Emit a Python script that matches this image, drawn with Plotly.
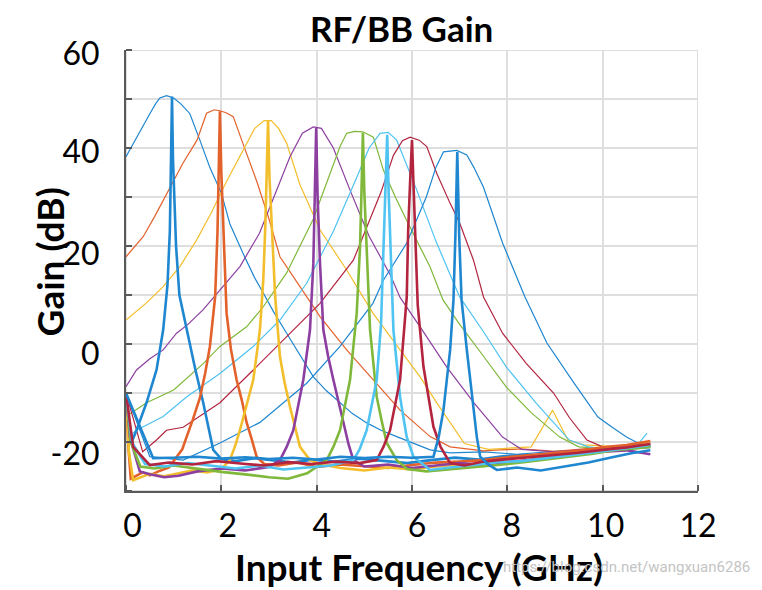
import plotly.graph_objects as go

# ---------------- data ----------------
# Broad (RF) response curves, thin lines
THIN_1_X = [0, 0.19, 0.35, 0.5, 0.62, 0.71, 0.85, 1.0, 1.15, 1.34, 1.55, 1.76, 2.0, 2.18, 2.45, 2.7, 2.88, 3.1, 3.37, 3.65, 3.93, 4.2, 4.49, 4.75, 5.05, 5.35, 5.68, 6.0, 6.38, 6.8, 7.5, 8.2, 9.0, 9.8, 10.5, 11.0]
THIN_1_Y = [38.2, 41.6, 44.5, 47, 49, 50.2, 50.7, 50.2, 49, 47, 41.6, 36, 30.8, 24.5, 18.6, 13.5, 10.4, 6.5, 2.2, -2.3, -6.7, -9.5, -12, -14.2, -16.1, -17.6, -18.9, -20.2, -21.6, -22.2, -22.0, -22.5, -21.9, -21.5, -21.2, -20.6]

THIN_2_X = [0, 0.36, 0.6, 0.86, 1.2, 1.49, 1.69, 1.85, 1.97, 2.1, 2.25, 2.45, 2.75, 3.0, 3.23, 3.65, 4.07, 4.63, 5.18, 5.75, 6.38, 6.8, 7.5, 8.3, 9.0, 9.8, 10.5, 11.0]
THIN_2_Y = [17.8, 21.9, 26, 30.8, 37, 41.6, 47.1, 47.8, 47.6, 47.2, 46.4, 41, 33, 25.5, 17.8, 11.7, 5.6, -1.2, -7.3, -13.5, -18.9, -21.0, -21.8, -21.4, -21.9, -21.2, -20.7, -20.2]

THIN_3_X = [0, 0.43, 0.78, 1.13, 1.48, 1.8, 2.1, 2.45, 2.7, 2.9, 3.05, 3.2, 3.37, 3.65, 4.07, 4.63, 5.18, 5.75, 6.17, 6.52, 6.8, 7.1, 7.6, 8.1, 8.5, 8.95, 9.27, 9.6, 10.2, 11.0]
THIN_3_Y = [4.9, 8.4, 11.7, 15.8, 21.2, 27, 33, 39.6, 44, 45.6, 45.6, 44, 41, 32.5, 23.3, 15.1, 6.3, -1.2, -6.7, -12, -16, -20.3, -21.5, -21.2, -21.0, -13.5, -19.6, -20.6, -20.9, -20.3]

THIN_4_X = [0, 0.22, 0.5, 0.78, 1.06, 1.3, 1.62, 1.97, 2.39, 2.8, 3.1, 3.44, 3.7, 3.93, 4.1, 4.35, 4.7, 5.1, 5.55, 5.75, 6.17, 6.73, 7.3, 7.9, 8.3, 9.0, 10.0, 11.0]
THIN_4_Y = [-8.7, -5.3, -3, -1.2, 2.2, 4, 7, 11, 15.8, 22.6, 30, 38.2, 43, 44.3, 44, 40, 31.4, 22, 14, 9.5, 3.5, -4.7, -12, -19, -21.5, -22.0, -21.3, -20.8]

THIN_5_X = [0, 0.43, 1.0, 1.62, 1.97, 2.53, 2.88, 3.37, 3.93, 4.28, 4.49, 4.63, 4.8, 4.97, 5.19, 5.4, 5.65, 5.9, 6.1, 6.38, 6.65, 7.0, 7.5, 7.98, 8.5, 9.1, 9.5, 10.2, 11.0]
THIN_5_Y = [-14.8, -12, -9.4, -4, -0.5, 3.5, 7.6, 14.5, 25.5, 35, 40.3, 43, 43.4, 43.3, 42.2, 35.5, 30, 25, 21, 15.7, 9, 4, -2.5, -8.8, -14, -19, -21, -21.4, -20.8]

THIN_6_X = [0, 0.1, 0.22, 0.78, 1.27, 1.97, 2.67, 3.23, 3.79, 4.35, 4.84, 5.1, 5.33, 5.5, 5.68, 6.1, 6.5, 7.0, 7.5, 7.98, 8.6, 9.3, 9.7, 10.3, 10.7, 10.93]
THIN_6_Y = [-10, -18.5, -17.6, -14.8, -10.8, -6, -0.5, 4.9, 12.4, 23, 34, 40, 43, 43.2, 41.6, 31.4, 21, 9.6, 2.5, -4.7, -12, -19.6, -21, -21.6, -21.0, -18.2]

THIN_7_X = [0, 0.35, 0.64, 0.85, 1.2, 1.97, 2.67, 3.37, 4.07, 4.77, 5.05, 5.35, 5.61, 5.8, 5.96, 6.15, 6.31, 6.52, 6.8, 7.0, 7.29, 7.5, 7.9, 8.4, 8.97, 9.3, 9.67, 10.0, 10.5, 11.0]
THIN_7_Y = [-10, -22, -19.6, -17.6, -17, -12, -5.3, 1.5, 8.3, 17.1, 24, 31, 38.5, 41.5, 42.2, 41.6, 40.3, 34.8, 28.7, 24.7, 17.1, 9.6, 2.2, -4, -10, -15, -19.6, -21, -21.3, -20.5]

THIN_8_X = [0, 0.5, 1.2, 1.97, 2.81, 3.79, 4.49, 5.18, 5.4, 5.89, 6.3, 6.5, 6.66, 6.94, 7.15, 7.3, 7.5, 7.9, 8.37, 8.83, 9.4, 9.9, 10.2, 10.5, 10.8, 11.0]
THIN_8_Y = [-10, -23, -23.7, -20.2, -16, -8, -0.5, 8.3, 13, 20.6, 30, 36, 39.2, 39.5, 38.6, 36, 32, 20.6, 9.6, 0.2, -8, -14.9, -17, -19, -20.5, -20.8]

# Narrow (BB) response curves, thick lines
THICK_1_X = [0, 0.06, 0.12, 0.22, 0.43, 0.64, 0.78, 0.87, 0.92, 0.945, 0.965, 0.985, 1.01, 1.05, 1.12, 1.27, 1.45, 1.62, 1.75, 1.83, 2.0, 2.3, 2.7, 3.1, 3.5, 3.9, 4.4, 4.9, 5.4, 5.9, 6.4, 6.9, 7.4, 7.9, 8.4, 8.9, 9.4, 9.9, 10.4, 11.0]
THICK_1_Y = [-10, -18.5, -20, -17.6, -12, -5.3, 2.9, 12, 23, 36, 50.5, 38, 29, 20, 10, 2.9, -5, -12, -18, -21.6, -23.5, -23.9, -23.3, -23.8, -24.2, -23.6, -24.0, -23.4, -23.9, -24.3, -23.7, -23.2, -23.6, -22.9, -22.6, -22.9, -22.2, -21.8, -21.5, -21.0]

THICK_2_X = [0, 0.05, 0.1, 0.2, 0.35, 0.5, 0.7, 0.9, 1.06, 1.18, 1.27, 1.4, 1.55, 1.66, 1.76, 1.87, 1.92, 1.95, 1.97, 2.0, 2.04, 2.11, 2.2, 2.32, 2.43, 2.53, 2.64, 2.74, 2.9, 3.2, 3.6, 4.0, 4.5, 5.0, 5.5, 6.0, 6.5, 7.0, 7.5, 8.0, 8.5, 9.0, 9.5, 10.0, 10.5, 11.0]
THICK_2_Y = [-10, -21, -27.5, -27, -26.2, -26.8, -25.9, -25.2, -23, -21.5, -19, -15.5, -11, -6, -0.5, 9.6, 23, 35, 47.5, 35, 23, 6.3, -1, -7.3, -11.5, -16, -19.5, -23, -24.5, -24.8, -24.2, -25.1, -24.6, -24.9, -25.3, -24.7, -24.2, -24.0, -23.7, -23.1, -22.7, -22.3, -21.8, -21.1, -20.6, -19.8]

THICK_3_X = [0, 0.06, 0.15, 0.3, 0.5, 0.8, 1.1, 1.4, 1.7, 2.0, 2.18, 2.3, 2.39, 2.53, 2.67, 2.81, 2.88, 2.92, 2.95, 2.98, 3.01, 3.06, 3.13, 3.23, 3.33, 3.44, 3.55, 3.65, 3.86, 4.1, 4.5, 5.0, 5.5, 6.0, 6.5, 7.0, 7.5, 8.0, 8.5, 9.0, 9.5, 10.0, 10.5, 11.0]
THICK_3_Y = [-10, -22, -27.8, -27.2, -26.5, -27.0, -26.4, -25.8, -26.2, -25.5, -23.7, -20.5, -17.6, -12.5, -7.3, 2.9, 13.1, 23.3, 34, 45.5, 34, 23.3, 9.6, -2.6, -8, -12.8, -17, -21, -23.7, -24.6, -25.3, -25.8, -25.2, -25.6, -25.0, -24.6, -24.9, -24.3, -23.6, -23.0, -22.4, -21.9, -21.2, -20.6]

THICK_4_X = [0, 0.08, 0.29, 0.5, 0.8, 1.1, 1.5, 2.0, 2.5, 3.0, 3.23, 3.37, 3.51, 3.62, 3.72, 3.86, 3.93, 3.96, 3.99, 4.02, 4.07, 4.14, 4.24, 4.35, 4.46, 4.56, 4.67, 4.77, 5.0, 5.5, 6.0, 6.5, 7.0, 7.5, 8.0, 8.5, 9.0, 9.5, 10.0, 10.5, 11.0]
THICK_4_Y = [-10, -19, -26, -26.6, -27.2, -26.9, -26.0, -25.4, -25.8, -25.1, -23.7, -21, -17.6, -12.5, -7.3, 2.9, 16.5, 30, 44.1, 30, 16.5, 2.9, -2.5, -7.3, -12, -16, -20.5, -23.7, -25.0, -24.6, -25.3, -24.8, -24.3, -24.7, -24.2, -23.6, -23.1, -22.6, -22.0, -21.7, -22.5]

THICK_5_X = [0, 0.1, 0.3, 0.6, 1.0, 1.5, 2.0, 2.5, 3.0, 3.4, 3.8, 4.21, 4.35, 4.49, 4.6, 4.7, 4.84, 4.91, 4.94, 4.97, 5.0, 5.05, 5.12, 5.19, 5.26, 5.36, 5.47, 5.68, 5.9, 6.3, 6.8, 7.3, 7.8, 8.3, 8.8, 9.3, 9.8, 10.3, 11.0]
THICK_5_Y = [-10, -20, -25, -25.4, -24.8, -25.5, -26.1, -26.6, -27.2, -27.5, -26.4, -23.7, -21, -17.6, -12.5, -7.3, 6.3, 19.9, 31, 43.1, 31, 19.9, 2.9, -4, -10.8, -15.5, -20.2, -23.7, -25.5, -26.0, -25.6, -25.1, -24.7, -24.2, -23.6, -23.0, -22.4, -21.6, -21.0]

THICK_6_X = [0, 0.12, 0.4, 0.8, 1.3, 1.8, 2.3, 2.8, 3.3, 3.8, 4.3, 4.77, 4.9, 5.05, 5.15, 5.26, 5.35, 5.41, 5.45, 5.48, 5.51, 5.54, 5.61, 5.68, 5.75, 5.82, 5.89, 6.03, 6.38, 6.8, 7.3, 7.8, 8.3, 8.8, 9.3, 9.8, 10.3, 11.0]
THICK_6_Y = [-10, -20, -24.5, -25.0, -24.3, -24.9, -25.4, -24.8, -25.6, -25.2, -24.8, -23.7, -21.5, -17.6, -12.5, -7.3, 4, 20, 31, 42.7, 31, 23.3, 2.9, -4, -10.8, -15, -19, -23, -25.7, -25.2, -24.6, -24.1, -23.9, -23.3, -22.8, -22.1, -21.5, -20.6]

THICK_7_X = [0, 0.15, 0.5, 0.9, 1.4, 1.9, 2.4, 2.9, 3.4, 3.9, 4.4, 4.9, 5.26, 5.4, 5.54, 5.65, 5.75, 5.89, 5.92, 5.96, 6.0, 6.03, 6.06, 6.12, 6.24, 6.35, 6.45, 6.6, 6.8, 7.1, 7.5, 8.0, 8.5, 9.0, 9.5, 10.0, 10.5, 11.0]
THICK_7_Y = [-10, -21, -24.7, -24.2, -24.6, -23.9, -24.4, -24.8, -24.1, -24.5, -24.0, -24.3, -23.7, -21, -17.6, -12.5, -7.3, 9.6, 23.3, 33, 41.6, 33, 23.3, 8, -4.6, -11, -16.9, -21, -24.3, -24.8, -24.0, -23.5, -23.1, -22.7, -22.2, -21.6, -21.1, -20.4]

THICK_8_X = [0, 0.3, 0.57, 1.0, 1.5, 2.0, 2.5, 3.0, 3.5, 4.0, 4.5, 5.0, 5.5, 6.0, 6.45, 6.56, 6.66, 6.8, 6.87, 6.91, 6.95, 6.99, 7.04, 7.15, 7.29, 7.36, 7.43, 7.6, 7.78, 8.2, 8.7, 9.2, 9.7, 10.2, 10.6, 11.0]
THICK_8_Y = [-10, -17, -23.3, -23.2, -23.0, -23.4, -23.1, -23.5, -23.2, -23.6, -23.0, -23.3, -23.0, -23.2, -23, -19, -13.5, -1.2, 9, 22, 39.2, 22, 9, -1.2, -13.5, -19, -23, -24.6, -25.7, -25.2, -25.8, -25.0, -24.2, -23.1, -22.3, -21.7]

COLORS = ["#1f86d0", "#e3612b", "#f3be2c", "#8c3fa0", "#7fb83a", "#4fc3f2", "#b3243f", "#1f86d0"]

X_TICK_POS = [0.136, 2.136, 4.105, 6.105, 8.094, 10.063, 12.0]
X_TICK_TEXT = ["0", "2", "4", "6", "8", "10", "12"]
Y_TICK_POS = [59.3, 39.25, 18.5, -2.0, -22.4]
Y_TICK_TEXT = ["60", "40", "20", "0", "-20"]

TITLE = "RF/BB Gain"
X_TITLE = "Input Frequency (GHz)"
Y_TITLE = "Gain (dB)"
WATERMARK = "https://blog.csdn.net/wangxuan6286"

# ---------------- figure ----------------
thin = [(THIN_1_X, THIN_1_Y), (THIN_2_X, THIN_2_Y), (THIN_3_X, THIN_3_Y), (THIN_4_X, THIN_4_Y),
        (THIN_5_X, THIN_5_Y), (THIN_6_X, THIN_6_Y), (THIN_7_X, THIN_7_Y), (THIN_8_X, THIN_8_Y)]
thick = [(THICK_1_X, THICK_1_Y), (THICK_2_X, THICK_2_Y), (THICK_3_X, THICK_3_Y), (THICK_4_X, THICK_4_Y),
         (THICK_5_X, THICK_5_Y), (THICK_6_X, THICK_6_Y), (THICK_7_X, THICK_7_Y), (THICK_8_X, THICK_8_Y)]

fig = go.Figure()
for (xs, ys), c in zip(thin, COLORS):
    fig.add_trace(go.Scatter(x=xs, y=ys, mode="lines", line=dict(color=c, width=1.2),
                             showlegend=False, hoverinfo="skip"))
for (xs, ys), c in zip(thick, COLORS):
    fig.add_trace(go.Scatter(x=xs, y=ys, mode="lines", line=dict(color=c, width=2.6),
                             showlegend=False, hoverinfo="skip"))

FONT = "Lato, Carlito, Calibri, 'Open Sans', sans-serif"
GRID = "#dedede"
AXIS = "#5a5a5a"

fig.update_xaxes(range=[0, 12], tickmode="array", tickvals=X_TICK_POS, ticktext=X_TICK_TEXT,
                 ticks="", showgrid=False, zeroline=False, showline=True, linecolor=AXIS, linewidth=2,
                 tickfont=dict(family=FONT, size=32, color="black"), ticklabelstandoff=6,
                 automargin=False,
                 minor=dict(tickmode="linear", tick0=0, dtick=2, ticks="inside", ticklen=6,
                            tickcolor=AXIS, tickwidth=1.5, showgrid=True, gridcolor=GRID, gridwidth=1.6))
fig.update_yaxes(range=[-30, 60], tickmode="array", tickvals=Y_TICK_POS, ticktext=Y_TICK_TEXT,
                 ticks="", showgrid=False, zeroline=False, showline=True, linecolor=AXIS, linewidth=2,
                 tickfont=dict(family=FONT, size=32, color="black"), ticklabelstandoff=18,
                 automargin=False,
                 minor=dict(tickmode="linear", tick0=0, dtick=10, ticks="inside", ticklen=6,
                            tickcolor=AXIS, tickwidth=1.5, showgrid=True, gridcolor=GRID, gridwidth=1.6))

fig.add_shape(type="rect", xref="x", yref="y", x0=0, x1=12, y0=-30, y1=60,
              line=dict(color=GRID, width=2), layer="below")

fig.add_annotation(text="<b>%s</b>" % TITLE, xref="paper", yref="paper", x=0.4825, y=1.05,
                   xanchor="center", yanchor="middle", showarrow=False,
                   font=dict(family=FONT, size=35, color="black"))
fig.add_annotation(text="<b>%s</b>" % X_TITLE, xref="paper", yref="paper", x=0.5114, y=-0.172,
                   xanchor="center", yanchor="middle", showarrow=False,
                   font=dict(family=FONT, size=37, color="black"))
fig.add_annotation(text="<b>%s</b>" % Y_TITLE, xref="paper", yref="paper", x=-0.133, y=0.5204,
                   xanchor="center", yanchor="middle", showarrow=False, textangle=-90,
                   font=dict(family=FONT, size=37, color="black"))
fig.add_annotation(text=WATERMARK, xref="paper", yref="paper", x=1.094, y=-0.172,
                   xanchor="right", yanchor="middle", showarrow=False,
                   font=dict(family="Roboto, sans-serif", size=15, color="#c4c4c4"))

# the page is drawn with an 8 px body margin, so the figure is sized to fit the window
fig.update_layout(width=754, height=582, margin=dict(l=118, r=64, t=42, b=99),
                  paper_bgcolor="white", plot_bgcolor="white", showlegend=False)

fig.write_html("out.html")
